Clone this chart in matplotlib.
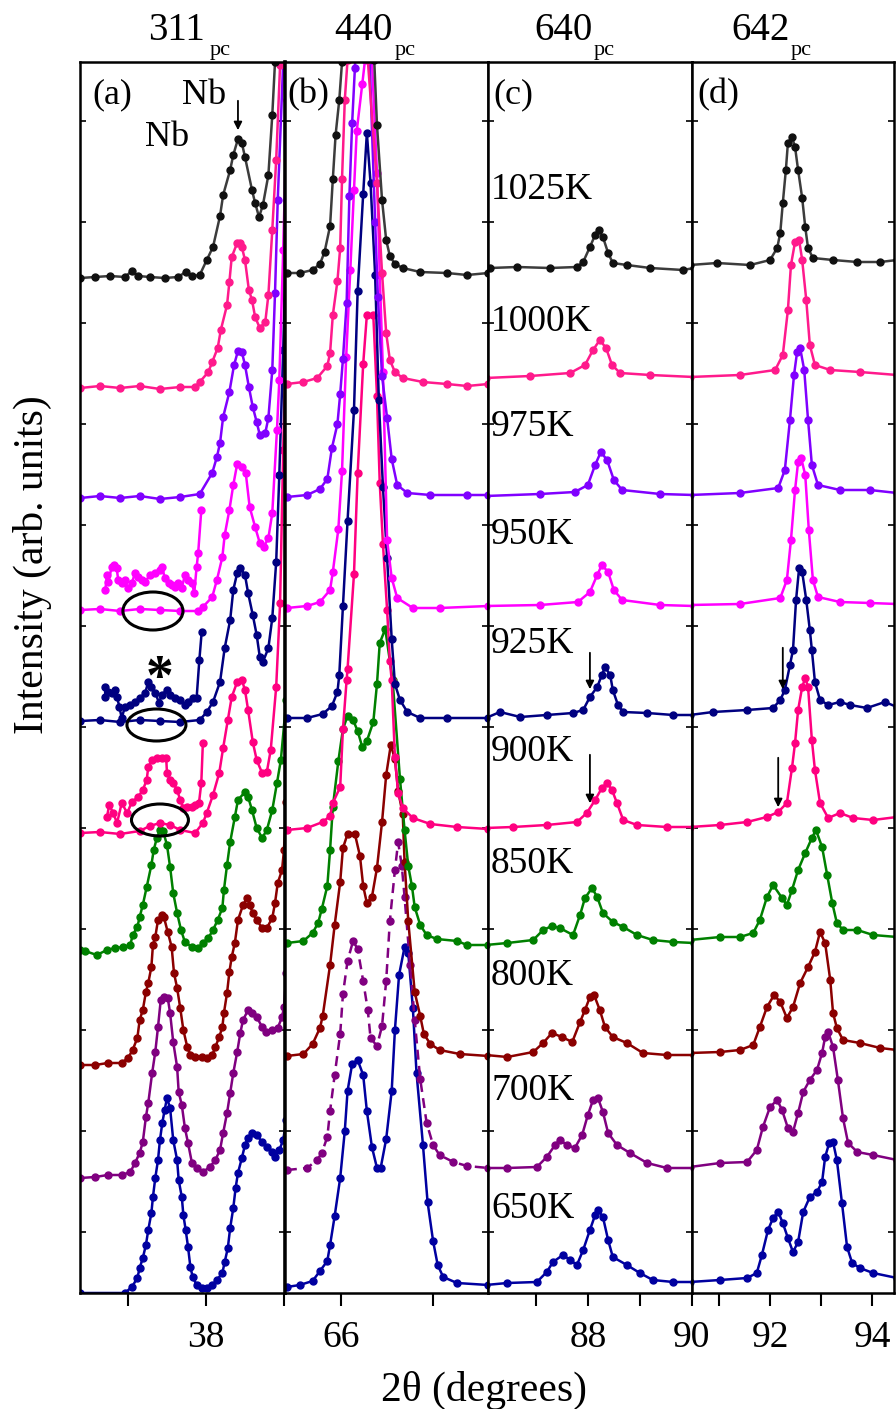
import matplotlib.pyplot as plt
from matplotlib.patches import Ellipse

plt.rcParams['font.family'] = ['Liberation Serif', 'DejaVu Serif']

temps = ['1025K', '1000K', '975K', '950K', '925K', '900K', '850K', '800K', '700K', '650K']
colors = ['#3c3c3c', '#ff1a8c', '#8000ff', '#ff00ff', '#000080',
          '#ff0080', '#008000', '#8b0000', '#800080', '#0000a0']

# ---- panel (a): 311 reflection, (2theta, intensity) ----
a_1025K = [(36.39, 1015), (36.58, 1016), (36.77, 1017), (36.96, 1016), (37.05, 1022), (37.13, 1017),
           (37.28, 1016), (37.47, 1015), (37.64, 1016), (37.74, 1021), (37.82, 1017), (37.92, 1018),
           (38.01, 1033), (38.09, 1046), (38.18, 1077), (38.22, 1098), (38.31, 1123), (38.35, 1138),
           (38.41, 1154), (38.46, 1150), (38.50, 1136), (38.59, 1103), (38.63, 1090), (38.68, 1076),
           (38.73, 1088), (38.80, 1118), (38.85, 1178), (38.885, 1231), (38.92, 1320)]
a_1000K = [(36.39, 905), (36.64, 907), (36.90, 905), (37.15, 907), (37.41, 904), (37.67, 906),
           (37.86, 906), (37.92, 911), (38.03, 921), (38.08, 931), (38.15, 945), (38.19, 963),
           (38.27, 988), (38.30, 1011), (38.33, 1036), (38.40, 1050), (38.44, 1050), (38.46, 1046),
           (38.50, 1033), (38.55, 1003), (38.59, 993), (38.63, 976), (38.69, 965), (38.76, 971),
           (38.80, 998), (38.85, 1063), (38.90, 1133), (38.95, 1228), (38.975, 1293)]
a_975K = [(36.39, 795), (36.64, 797), (36.90, 795), (37.15, 797), (37.41, 794), (37.67, 796),
          (37.92, 799), (38.08, 820), (38.14, 836), (38.18, 850), (38.22, 876), (38.30, 901),
          (38.36, 928), (38.41, 942), (38.46, 941), (38.50, 928), (38.55, 906), (38.60, 886),
          (38.65, 871), (38.69, 858), (38.76, 860), (38.80, 875), (38.85, 923), (38.885, 1000),
          (38.92, 1093), (38.99, 1231), (39.01, 1275)]
a_950K = [(36.39, 683), (36.64, 684), (36.90, 682), (37.15, 684), (37.41, 683), (37.67, 682),
          (37.90, 682), (37.96, 686), (38.08, 696), (38.14, 713), (38.21, 736), (38.24, 758),
          (38.30, 783), (38.35, 808), (38.40, 829), (38.46, 826), (38.51, 820), (38.56, 786),
          (38.63, 766), (38.69, 750), (38.74, 746), (38.80, 755), (38.85, 780), (38.91, 863),
          (38.94, 913), (38.99, 1043), (39.04, 1193)]
a_925K = [(36.39, 572), (36.64, 573), (36.90, 571), (37.15, 573), (37.41, 572), (37.67, 571),
          (37.92, 573), (38.01, 581), (38.09, 591), (38.18, 611), (38.24, 645), (38.31, 673),
          (38.35, 703), (38.40, 720), (38.44, 725), (38.50, 718), (38.54, 700), (38.60, 678),
          (38.65, 658), (38.69, 636), (38.73, 631), (38.80, 645), (38.85, 675), (38.90, 731),
          (38.94, 818), (38.99, 943), (39.04, 1093)]
a_900K = [(36.39, 460), (36.64, 461), (36.90, 459), (37.15, 462), (37.28, 467), (37.41, 470),
          (37.54, 468), (37.67, 463), (37.86, 460), (37.96, 470), (38.01, 480), (38.09, 498),
          (38.17, 520), (38.22, 545), (38.28, 573), (38.33, 596), (38.40, 611), (38.46, 613),
          (38.50, 603), (38.54, 583), (38.60, 551), (38.65, 533), (38.72, 520), (38.78, 521),
          (38.83, 543), (38.90, 606), (38.95, 690), (38.99, 843), (39.04, 993)]
a_850K = [(36.39, 343), (36.45, 342), (36.60, 338), (36.73, 343), (36.83, 345), (36.94, 346),
          (37.03, 348), (37.06, 358), (37.12, 366), (37.15, 376), (37.19, 388), (37.24, 406),
          (37.30, 428), (37.33, 443), (37.37, 455), (37.41, 463), (37.45, 462), (37.50, 448),
          (37.54, 426), (37.58, 400), (37.63, 380), (37.68, 363), (37.73, 351), (37.82, 346),
          (37.90, 345), (37.96, 350), (38.03, 355), (38.09, 363), (38.15, 373), (38.21, 385),
          (38.23, 403), (38.27, 428), (38.31, 451), (38.37, 476), (38.41, 493), (38.50, 501),
          (38.54, 496), (38.59, 483), (38.65, 465), (38.72, 455), (38.78, 463), (38.85, 483),
          (38.91, 510), (38.96, 533), (39.03, 593)]
a_800K = [(36.39, 228), (36.58, 228), (36.74, 230), (36.92, 230), (37.00, 235), (37.06, 243),
          (37.12, 255), (37.15, 273), (37.19, 283), (37.23, 301), (37.26, 310), (37.30, 326),
          (37.32, 348), (37.35, 356), (37.385, 373), (37.44, 378), (37.46, 376), (37.51, 361),
          (37.56, 346), (37.59, 320), (37.63, 305), (37.67, 285), (37.71, 263), (37.76, 246),
          (37.80, 238), (37.86, 236), (37.95, 236), (38.01, 235), (38.08, 238), (38.12, 246),
          (38.17, 256), (38.21, 266), (38.23, 280), (38.27, 300), (38.30, 321), (38.33, 336),
          (38.37, 350), (38.41, 373), (38.475, 388), (38.53, 395), (38.56, 388), (38.60, 380),
          (38.65, 373), (38.72, 365), (38.78, 365), (38.85, 375), (38.885, 390), (38.92, 410),
          (38.975, 423), (39.00, 443), (39.03, 491)]
a_700K = [(36.39, 115), (36.58, 116), (36.74, 118), (36.92, 118), (37.03, 121), (37.09, 130),
          (37.15, 140), (37.19, 151), (37.23, 176), (37.26, 190), (37.31, 220), (37.35, 241),
          (37.385, 266), (37.42, 293), (37.46, 296), (37.51, 295), (37.54, 280), (37.58, 251),
          (37.63, 226), (37.65, 201), (37.69, 188), (37.73, 165), (37.77, 150), (37.82, 130),
          (37.88, 125), (37.96, 121), (38.05, 126), (38.12, 133), (38.18, 143), (38.22, 160),
          (38.27, 180), (38.31, 200), (38.35, 220), (38.40, 241), (38.44, 260), (38.475, 273),
          (38.54, 283), (38.59, 280), (38.65, 276), (38.72, 266), (38.77, 261), (38.85, 263),
          (38.92, 265), (38.975, 276), (39.00, 286), (39.03, 320)]
a_650K = [(36.39, 0), (36.96, 0), (37.05, 6), (37.12, 15), (37.15, 25), (37.19, 35), (37.23, 48),
          (37.26, 63), (37.30, 80), (37.32, 96), (37.35, 115), (37.385, 133), (37.41, 153),
          (37.44, 170), (37.47, 183), (37.50, 195), (37.54, 185), (37.58, 153), (37.63, 133),
          (37.65, 113), (37.69, 96), (37.71, 78), (37.74, 63), (37.77, 46), (37.80, 26),
          (37.83, 16), (37.88, 8), (37.95, 5), (38.01, 5), (38.08, 8), (38.14, 13), (38.21, 20),
          (38.24, 31), (38.28, 45), (38.31, 65), (38.35, 85), (38.38, 105), (38.41, 120),
          (38.46, 135), (38.50, 148), (38.54, 155), (38.59, 160), (38.65, 158), (38.72, 151),
          (38.78, 146), (38.85, 141), (38.885, 136), (38.94, 143), (38.99, 153), (39.03, 173)]

# magnified baseline traces drawn over panel (a)
a_950K_zoom = [(36.71, 703), (36.73, 718), (36.75, 711), (36.79, 726), (36.82, 728), (36.855, 725),
               (36.875, 713), (36.92, 710), (36.96, 713), (37.00, 705), (37.05, 710), (37.09, 720),
               (37.13, 716), (37.18, 713), (37.22, 711), (37.28, 718), (37.35, 720), (37.41, 723),
               (37.44, 726), (37.47, 715), (37.52, 710), (37.56, 708), (37.60, 706), (37.645, 710),
               (37.69, 705), (37.73, 718), (37.77, 713), (37.82, 710), (37.85, 700), (37.88, 726),
               (37.90, 740), (37.94, 783)]
a_925K_zoom = [(36.705, 606), (36.71, 596), (36.75, 601), (36.79, 600), (36.83, 603), (36.86, 596),
               (36.89, 586), (36.92, 575), (36.96, 586), (37.03, 588), (37.09, 591), (37.15, 595),
               (37.22, 600), (37.26, 611), (37.30, 606), (37.35, 600), (37.40, 590), (37.43, 598),
               (37.50, 603), (37.54, 598), (37.60, 595), (37.67, 593), (37.73, 588), (37.77, 591),
               (37.84, 595), (37.88, 595), (37.915, 633), (37.945, 661)]
a_900K_zoom = [(36.73, 476), (36.76, 488), (36.81, 480), (36.86, 470), (36.92, 490), (36.99, 480),
               (37.05, 491), (37.13, 496), (37.19, 503), (37.24, 513), (37.26, 526), (37.31, 533),
               (37.37, 535), (37.44, 535), (37.49, 535), (37.50, 520), (37.54, 513), (37.58, 510),
               (37.63, 503), (37.67, 493), (37.71, 485), (37.76, 486), (37.82, 486), (37.86, 488),
               (37.91, 490), (37.94, 510), (37.96, 550)]

# ---- panel (b): 440 reflection ----
b_1025K = [(65.41, 1020), (65.55, 1020), (65.69, 1023), (65.77, 1029), (65.82, 1041), (65.88, 1067),
           (65.91, 1114), (65.94, 1158), (65.98, 1193), (66.01, 1231), (66.04, 1273), (66.18, 1600),
           (66.335, 1273), (66.36, 1233), (66.39, 1168), (66.445, 1093), (66.49, 1053), (66.53, 1037),
           (66.585, 1029), (66.67, 1025), (66.86, 1021), (67.15, 1020), (67.37, 1018), (67.60, 1020)]
b_1000K = [(65.41, 909), (65.59, 911), (65.74, 915), (65.85, 927), (65.88, 940), (65.91, 978),
           (65.96, 1012), (65.99, 1045), (66.01, 1114), (66.04, 1193), (66.07, 1233), (66.205, 1600),
           (66.29, 1233), (66.39, 1110), (66.445, 1020), (66.49, 960), (66.53, 933), (66.585, 921),
           (66.67, 915), (66.89, 911), (67.15, 909), (67.37, 907), (67.60, 909)]
b_975K = [(65.41, 796), (65.63, 798), (65.77, 804), (65.85, 814), (65.90, 845), (65.96, 869),
          (65.99, 899), (66.02, 934), (66.06, 990), (66.09, 1097), (66.12, 1170), (66.15, 1225),
          (66.24, 1500), (66.31, 1233), (66.37, 1071), (66.40, 996), (66.445, 917), (66.50, 875),
          (66.55, 834), (66.61, 808), (66.72, 800), (66.97, 798), (67.37, 798), (67.60, 798)]
b_950K = [(65.41, 685), (65.63, 687), (65.77, 691), (65.88, 703), (65.91, 721), (65.97, 764),
          (66.01, 822), (66.055, 936), (66.10, 1023), (66.14, 1103), (66.17, 1162), (66.23, 1209),
          (66.26, 1233), (66.29, 1300), (66.335, 1233), (66.39, 1120), (66.42, 1018), (66.455, 921),
          (66.50, 753), (66.55, 715), (66.61, 695), (66.78, 685), (67.07, 685), (67.60, 687)]
b_925K = [(65.41, 575), (65.63, 575), (65.80, 579), (65.90, 587), (65.96, 601), (65.98, 618),
          (66.02, 687), (66.07, 772), (66.14, 883), (66.18, 1002), (66.24, 1099), (66.28, 1160),
          (66.32, 1110), (66.37, 1018), (66.41, 893), (66.455, 806), (66.50, 735), (66.55, 654),
          (66.585, 609), (66.64, 593), (66.72, 581), (66.86, 575), (67.15, 575), (67.60, 575)]
b_900K = [(65.41, 463), (65.63, 465), (65.80, 471), (65.88, 477), (65.91, 490), (65.99, 506),
          (66.02, 564), (66.06, 613), (66.07, 624), (66.14, 719), (66.18, 820), (66.24, 929),
          (66.28, 978), (66.35, 978), (66.39, 897), (66.42, 810), (66.455, 749), (66.50, 683),
          (66.53, 632), (66.55, 613), (66.585, 536), (66.62, 500), (66.67, 485), (66.78, 475),
          (66.97, 469), (67.26, 466), (67.60, 464)]
b_850K = [(65.41, 350), (65.59, 352), (65.69, 360), (65.75, 370), (65.79, 384), (65.85, 407),
          (65.88, 443), (65.91, 486), (65.97, 532), (66.02, 564), (66.07, 577), (66.13, 573),
          (66.18, 562), (66.23, 546), (66.28, 552), (66.35, 571), (66.39, 609), (66.42, 650),
          (66.48, 664), (66.56, 613), (66.64, 514), (66.69, 463), (66.73, 427), (66.77, 407),
          (66.80, 386), (66.86, 368), (66.93, 358), (67.04, 354), (67.26, 352), (67.37, 348),
          (67.60, 348)]
b_800K = [(65.41, 237), (65.59, 239), (65.69, 249), (65.77, 265), (65.80, 277), (65.88, 328),
          (65.93, 368), (65.99, 411), (66.02, 445), (66.07, 459), (66.15, 459), (66.205, 437),
          (66.24, 407), (66.28, 390), (66.335, 396), (66.39, 425), (66.445, 471), (66.49, 518),
          (66.54, 548), (66.585, 534), (66.62, 502), (66.67, 479), (66.69, 431), (66.73, 372),
          (66.80, 301), (66.86, 277), (66.90, 259), (66.97, 249), (67.07, 243), (67.29, 239),
          (67.60, 237)]
b_700K = [(65.41, 123), (65.63, 125), (65.74, 133), (65.79, 140), (65.85, 156), (65.88, 182),
          (65.93, 218), (65.99, 259), (66.02, 299), (66.07, 332), (66.13, 352), (66.18, 344),
          (66.24, 312), (66.29, 283), (66.32, 255), (66.39, 247), (66.445, 267), (66.49, 312),
          (66.53, 372), (66.585, 423), (66.62, 451), (66.66, 427), (66.69, 396), (66.75, 328),
          (66.80, 273), (66.86, 214), (66.93, 170), (67.00, 148), (67.07, 138), (67.22, 131),
          (67.37, 127), (67.60, 125)]
b_650K = [(65.41, 6), (65.55, 8), (65.69, 12), (65.77, 22), (65.85, 32), (65.88, 48), (65.93, 77),
          (65.99, 115), (66.04, 162), (66.07, 202), (66.12, 229), (66.18, 233), (66.24, 218),
          (66.28, 182), (66.335, 146), (66.39, 125), (66.43, 125), (66.49, 154), (66.55, 202),
          (66.585, 263), (66.63, 318), (66.69, 346), (66.73, 340), (66.78, 285), (66.82, 220),
          (66.89, 148), (66.94, 91), (67.00, 52), (67.05, 28), (67.11, 16), (67.26, 10), (67.60, 8)]

# ---- panel (c): 640 reflection ----
c_1025K = [(86.04, 1025), (86.12, 1025), (86.64, 1026), (87.27, 1025), (87.79, 1026), (87.91, 1031),
           (88.04, 1046), (88.14, 1058), (88.21, 1063), (88.29, 1056), (88.39, 1040), (88.48, 1030),
           (88.75, 1028), (89.20, 1025), (89.83, 1023), (90.04, 1025)]
c_1000K = [(86.04, 915), (86.89, 917), (87.66, 920), (87.945, 928), (88.10, 943), (88.23, 953),
           (88.35, 945), (88.465, 928), (88.62, 920), (89.20, 918), (90.04, 916)]
c_975K = [(86.04, 797), (87.08, 799), (87.75, 801), (88.00, 808), (88.14, 828), (88.25, 841),
          (88.37, 833), (88.50, 813), (88.66, 803), (89.39, 799), (90.04, 798)]
c_950K = [(86.04, 687), (87.08, 688), (87.81, 691), (88.04, 701), (88.18, 718), (88.27, 728),
          (88.39, 721), (88.50, 703), (88.66, 693), (89.39, 688), (90.04, 687)]
c_925K = [(86.04, 575), (86.31, 581), (86.70, 576), (87.21, 578), (87.715, 580), (87.91, 583),
          (88.04, 596), (88.18, 606), (88.27, 618), (88.33, 626), (88.43, 618), (88.48, 603),
          (88.58, 588), (88.68, 581), (89.14, 580), (89.64, 578), (90.04, 578)]
c_900K = [(86.04, 465), (86.56, 466), (87.21, 468), (87.79, 471), (87.98, 480), (88.14, 493),
          (88.27, 505), (88.37, 510), (88.465, 503), (88.56, 490), (88.68, 473), (88.945, 468),
          (89.52, 466), (90.04, 466)]
c_850K = [(86.04, 348), (86.45, 350), (86.95, 353), (87.14, 363), (87.31, 367), (87.46, 365),
          (87.715, 358), (87.85, 378), (87.945, 395), (88.08, 405), (88.18, 396), (88.29, 380),
          (88.48, 371), (88.68, 366), (88.945, 358), (89.25, 353), (89.64, 351), (90.04, 350)]
c_800K = [(86.04, 238), (86.45, 236), (86.95, 241), (87.14, 250), (87.31, 260), (87.50, 256),
          (87.70, 251), (87.85, 271), (87.945, 283), (88.04, 296), (88.12, 298), (88.23, 283),
          (88.33, 266), (88.48, 256), (88.75, 250), (89.06, 240), (89.52, 238), (90.04, 238)]
c_700K = [(86.04, 125), (86.45, 125), (87.02, 126), (87.21, 136), (87.37, 148), (87.46, 153),
          (87.60, 148), (87.75, 145), (87.89, 158), (88.00, 178), (88.10, 193), (88.195, 195),
          (88.29, 181), (88.39, 160), (88.56, 148), (88.81, 140), (89.14, 130), (89.52, 125),
          (90.04, 125)]
c_650K = [(86.04, 8), (86.45, 10), (87.02, 11), (87.21, 21), (87.33, 31), (87.52, 38), (87.66, 33),
          (87.79, 28), (87.91, 43), (88.04, 63), (88.14, 78), (88.195, 83), (88.29, 76), (88.39, 53),
          (88.48, 36), (88.75, 28), (89.00, 20), (89.25, 13), (89.64, 11), (90.04, 11)]

# ---- panel (d): 642 reflection ----
d_1025K = [(90.43, 1028), (90.96, 1030), (91.61, 1028), (92.00, 1033), (92.14, 1045), (92.20, 1060),
           (92.25, 1090), (92.31, 1123), (92.35, 1150), (92.43, 1156), (92.49, 1146), (92.55, 1123),
           (92.63, 1095), (92.69, 1066), (92.745, 1045), (92.84, 1035), (93.235, 1033), (93.71, 1031),
           (94.16, 1031), (94.49, 1033)]
d_1000K = [(90.43, 916), (91.41, 918), (92.10, 923), (92.25, 938), (92.35, 983), (92.41, 1028),
           (92.49, 1051), (92.57, 1053), (92.63, 1033), (92.71, 993), (92.78, 948), (92.88, 928),
           (93.18, 923), (93.76, 921), (94.49, 918)]
d_975K = [(90.43, 798), (91.41, 800), (92.16, 805), (92.29, 823), (92.39, 873), (92.47, 918),
          (92.53, 941), (92.59, 945), (92.67, 923), (92.745, 873), (92.82, 828), (92.94, 808),
          (93.37, 803), (93.96, 803), (94.49, 800)]
d_950K = [(90.43, 688), (91.41, 689), (92.20, 695), (92.33, 713), (92.41, 753), (92.49, 803),
          (92.55, 831), (92.61, 835), (92.69, 818), (92.76, 763), (92.84, 713), (92.94, 696),
          (93.37, 691), (93.96, 690), (94.49, 689)]
d_925K = [(90.43, 578), (90.88, 581), (91.55, 583), (92.06, 585), (92.20, 593), (92.29, 603),
          (92.39, 628), (92.45, 643), (92.51, 693), (92.57, 725), (92.63, 721), (92.71, 693),
          (92.78, 663), (92.82, 643), (92.88, 611), (92.98, 593), (93.14, 588), (93.37, 591),
          (93.57, 588), (93.90, 585), (94.25, 591), (94.49, 586)]
d_900K = [(90.43, 466), (91.02, 468), (91.55, 471), (91.94, 476), (92.16, 481), (92.33, 490),
          (92.43, 525), (92.49, 550), (92.55, 583), (92.63, 606), (92.69, 615), (92.745, 606),
          (92.82, 553), (92.88, 523), (92.98, 490), (93.14, 475), (93.37, 480), (93.63, 475),
          (94.02, 473), (94.49, 476)]
d_850K = [(90.43, 353), (91.02, 356), (91.41, 356), (91.67, 360), (91.80, 373), (91.94, 396),
          (92.06, 408), (92.235, 395), (92.33, 388), (92.43, 403), (92.55, 423), (92.69, 440),
          (92.82, 455), (92.90, 463), (93.02, 446), (93.12, 418), (93.22, 390), (93.31, 370),
          (93.43, 363), (93.71, 363), (94.02, 358), (94.49, 356)]
d_800K = [(90.43, 240), (91.02, 241), (91.41, 243), (91.67, 248), (91.80, 266), (91.94, 286),
          (92.08, 298), (92.20, 291), (92.33, 275), (92.45, 286), (92.59, 310), (92.745, 326),
          (92.88, 341), (92.98, 361), (93.08, 350), (93.18, 313), (93.235, 280), (93.31, 265),
          (93.43, 253), (93.76, 250), (94.16, 245), (94.49, 243)]
d_700K = [(90.43, 126), (91.02, 130), (91.55, 131), (91.74, 143), (91.86, 166), (92.00, 186),
          (92.14, 193), (92.235, 183), (92.35, 165), (92.45, 161), (92.55, 180), (92.65, 201),
          (92.78, 213), (92.92, 223), (93.02, 240), (93.08, 256), (93.14, 261), (93.235, 246),
          (93.33, 213), (93.43, 175), (93.53, 150), (93.71, 141), (94.02, 138), (94.49, 133)]
d_650K = [(90.43, 11), (91.02, 13), (91.55, 15), (91.74, 20), (91.84, 38), (91.96, 63), (92.06, 75),
          (92.16, 81), (92.25, 70), (92.35, 55), (92.45, 41), (92.55, 51), (92.65, 81), (92.78, 96),
          (92.92, 101), (93.02, 111), (93.08, 136), (93.16, 150), (93.235, 151), (93.31, 133),
          (93.41, 90), (93.51, 46), (93.61, 30), (93.76, 25), (94.02, 20), (94.49, 15)]

label_y = [1094, 962, 857, 749, 640, 532, 420, 308, 193, 75]

panels = [
    ('a', [a_1025K, a_1000K, a_975K, a_950K, a_925K, a_900K, a_850K, a_800K, a_700K, a_650K]),
    ('b', [b_1025K, b_1000K, b_975K, b_950K, b_925K, b_900K, b_850K, b_800K, b_700K, b_650K]),
    ('c', [c_1025K, c_1000K, c_975K, c_950K, c_925K, c_900K, c_850K, c_800K, c_700K, c_650K]),
    ('d', [d_1025K, d_1000K, d_975K, d_950K, d_925K, d_900K, d_850K, d_800K, d_700K, d_650K]),
]

W, H = 896, 1409
fig = plt.figure(figsize=(W / 100, H / 100), dpi=100)

edges = [(80, 285), (285, 488), (488, 692), (692, 894)]
xlims = [(36.385, 39.013), (65.39, 67.597), (86.08, 90.003), (90.47, 94.43)]
majors = [[38], [66], [88, 90], [92, 94]]
minors = [[37, 39], [67], [87, 89], [91, 93]]
letter_x = [0.058, 0.012, 0.025, 0.025]


def draw(ax, pts, color, **kw):
    xs = [p[0] for p in pts]
    ys = [p[1] for p in pts]
    mfc = '#111111' if color == '#3c3c3c' else color
    ax.plot(xs, ys, '-o', color=color, lw=1.8, ms=5, mfc=mfc, mec=mfc, **kw)


axes = []
for i, (name, curves) in enumerate(panels):
    x0, x1 = edges[i]
    ax = fig.add_axes([x0 / W, (H - 1293) / H, (x1 - x0) / W, (1293 - 62) / H])
    axes.append(ax)
    for j in range(len(temps) - 1, -1, -1):
        kw = {}
        if name == 'b' and temps[j] == '700K':
            kw['ls'] = (0, (4, 2.5))
        draw(ax, curves[j], colors[j], **kw)
    ax.set_xlim(*xlims[i])
    ax.set_ylim(0, 1231)
    ax.set_xticks(majors[i])
    ax.set_xticks(minors[i], minor=True)
    ax.tick_params(axis='x', which='both', direction='out', length=9, width=1.5,
                   labelsize=27, pad=11)
    ax.set_yticks(range(61, 1231, 101))
    ax.tick_params(axis='y', which='both', direction='in', length=4, width=1.2,
                   left=True, right=True, labelleft=False)
    for s in ax.spines.values():
        s.set_linewidth(1.8)
    ax.text(letter_x[i], 0.987, '(%s)' % name, transform=ax.transAxes,
            va='top', ha='left', fontsize=26)

ax_a, ax_b, ax_c, ax_d = axes
ax_a.spines['right'].set_linewidth(2.6)

# magnified traces, ellipses and markers in panel (a)
draw(ax_a, a_950K_zoom, colors[3], zorder=4)
draw(ax_a, a_925K_zoom, colors[4], zorder=4)
draw(ax_a, a_900K_zoom, colors[5], zorder=4)
for cx, cy, w, h in [(37.32, 682, 0.77, 38), (37.365, 568, 0.756, 32), (37.41, 473, 0.73, 32)]:
    ax_a.add_patch(Ellipse((cx, cy), w, h, fill=False, ec='black', lw=2.2, zorder=6))
ax_a.text(37.41, 599, '*', fontsize=40, fontweight='bold', ha='center', va='baseline', zorder=7)
ax_a.text(37.975, 1197, 'Nb', fontsize=26, ha='center', va='center')
ax_a.text(37.50, 1156, 'Nb', fontsize=26, ha='center', va='center')

arrow = dict(arrowstyle='-|>', color='black', lw=1.3, mutation_scale=12)
ax_a.annotate('', xy=(38.41, 1160), xytext=(38.41, 1195), arrowprops=arrow)
ax_c.annotate('', xy=(88.04, 601), xytext=(88.04, 643), arrowprops=arrow)
ax_c.annotate('', xy=(88.04, 487), xytext=(88.04, 541), arrowprops=arrow)
ax_d.annotate('', xy=(92.25, 601), xytext=(92.25, 648), arrowprops=arrow)
ax_d.annotate('', xy=(92.16, 483), xytext=(92.16, 538), arrowprops=arrow)

for t, y in zip(temps, label_y):
    ax_c.text(86.14, y, t, fontsize=27, ha='left', va='baseline', zorder=8)

# reflection labels on top
for main, xr, xs in [('311', 205, 210), ('440', 393, 395), ('640', 593, 594), ('642', 790, 791)]:
    fig.text(xr / W, 1 - 40 / H, main, fontsize=28, ha='right', va='baseline')
    fig.text(xs / W, 1 - 55 / H, 'pc', fontsize=16, ha='left', va='baseline')

fig.text(32 / W, 1 - 565 / H, 'Intensity (arb. units)', rotation=90, fontsize=30,
         ha='center', va='center')
fig.text(484 / W, 1 - 1390 / H, '2θ (degrees)', fontsize=30, ha='center', va='center')

fig.savefig('out.png', dpi=100)
